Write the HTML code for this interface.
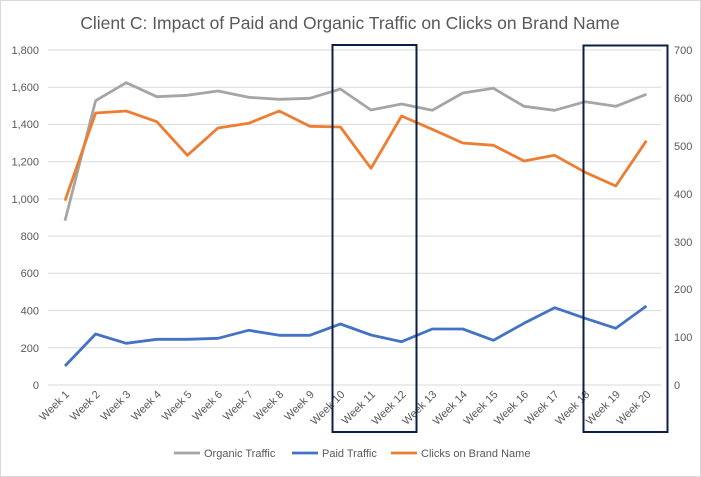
<!DOCTYPE html>
<html><head><meta charset="utf-8"><style>
html,body{margin:0;padding:0;background:#fff}
svg{display:block;font-family:"Liberation Sans",sans-serif}
</style></head><body>
<svg width="701" height="477" viewBox="0 0 701 477">
<rect x="0.5" y="0.5" width="700" height="476" fill="#fff" stroke="#d9d9d9"/>
<text x="350" y="29" text-anchor="middle" font-size="17.5" fill="#595959">Client C: Impact of Paid and Organic Traffic on Clicks on Brand Name</text>
<g stroke="#d9d9d9" stroke-width="1">
<line x1="48" x2="661" y1="50" y2="50"/><line x1="48" x2="661" y1="87.2" y2="87.2"/>
<line x1="48" x2="661" y1="124.4" y2="124.4"/><line x1="48" x2="661" y1="161.7" y2="161.7"/>
<line x1="48" x2="661" y1="198.9" y2="198.9"/><line x1="48" x2="661" y1="236.1" y2="236.1"/>
<line x1="48" x2="661" y1="273.3" y2="273.3"/><line x1="48" x2="661" y1="310.6" y2="310.6"/>
<line x1="48" x2="661" y1="347.8" y2="347.8"/><line x1="48" x2="661" y1="385" y2="385"/>
</g>
<g font-size="11" fill="#595959" text-anchor="end">
<text x="39" y="54">1,800</text><text x="39" y="91">1,600</text><text x="39" y="128">1,400</text>
<text x="39" y="165.5">1,200</text><text x="39" y="203">1,000</text><text x="39" y="240">800</text>
<text x="39" y="277">600</text><text x="39" y="314.5">400</text><text x="39" y="352">200</text><text x="39" y="389">0</text>
</g>
<g font-size="11" fill="#595959" text-anchor="start">
<text x="674" y="54">700</text><text x="674" y="102">600</text><text x="674" y="150">500</text>
<text x="674" y="198">400</text><text x="674" y="246">300</text><text x="674" y="293">200</text>
<text x="674" y="341">100</text><text x="674" y="389">0</text>
</g>
<g font-size="11" fill="#595959" text-anchor="end">
<text transform="translate(70,395) rotate(-45)">Week 1</text>
<text transform="translate(100.6,395) rotate(-45)">Week 2</text>
<text transform="translate(131.2,395) rotate(-45)">Week 3</text>
<text transform="translate(161.8,395) rotate(-45)">Week 4</text>
<text transform="translate(192.4,395) rotate(-45)">Week 5</text>
<text transform="translate(223,395) rotate(-45)">Week 6</text>
<text transform="translate(253.6,395) rotate(-45)">Week 7</text>
<text transform="translate(284.2,395) rotate(-45)">Week 8</text>
<text transform="translate(314.8,395) rotate(-45)">Week 9</text>
<text transform="translate(345.4,395) rotate(-45)">Week 10</text>
<text transform="translate(376,395) rotate(-45)">Week 11</text>
<text transform="translate(406.6,395) rotate(-45)">Week 12</text>
<text transform="translate(437.2,395) rotate(-45)">Week 13</text>
<text transform="translate(467.8,395) rotate(-45)">Week 14</text>
<text transform="translate(498.4,395) rotate(-45)">Week 15</text>
<text transform="translate(529,395) rotate(-45)">Week 16</text>
<text transform="translate(559.6,395) rotate(-45)">Week 17</text>
<text transform="translate(590.2,395) rotate(-45)">Week 18</text>
<text transform="translate(620.8,395) rotate(-45)">Week 19</text>
<text transform="translate(651.4,395) rotate(-45)">Week 20</text>
</g>
<g fill="none" stroke-width="2.8" stroke-linejoin="round">
<polyline stroke="#a5a5a5" points="65,220.7 95.6,100.7 126.2,82.7 156.8,96.7 187.4,95.3 218,91 248.6,97.3 279.2,99.3 309.8,98.3 340.4,89 371,110 401.6,104 432.2,110.3 462.8,93 493.4,88.3 524,106.3 554.6,110.3 585.2,101.7 615.8,106.3 646.4,94.3"/>
<polyline stroke="#ed7d31" points="65,200.7 95.6,113 126.2,111 156.8,121.7 187.4,155.3 218,128 248.6,123.3 279.2,111 309.8,126.3 340.4,127 371,168.3 401.6,116 432.2,129.3 462.8,143 493.4,145.3 524,161 554.6,155.3 585.2,172.3 615.8,186 646.4,140.7"/>
<polyline stroke="#4472c4" points="65,366 95.6,334 126.2,343.3 156.8,339.3 187.4,339.3 218,338.3 248.6,330.3 279.2,335.3 309.8,335.3 340.4,324 371,335 401.6,341.7 432.2,329 462.8,329 493.4,340.3 524,323.3 554.6,307.7 585.2,318.3 615.8,328.3 646.4,306"/>
</g>
<rect x="332.5" y="45" width="84" height="387" fill="none" stroke="#0c1e45" stroke-width="2"/>
<rect x="583.5" y="45.5" width="84" height="386.5" fill="none" stroke="#0c1e45" stroke-width="2"/>
<g font-size="11" fill="#595959">
<line x1="174" x2="200" y1="453" y2="453" stroke="#a5a5a5" stroke-width="2.8"/>
<text x="204" y="457">Organic Traffic</text>
<line x1="292" x2="318" y1="453" y2="453" stroke="#4472c4" stroke-width="2.8"/>
<text x="322" y="457">Paid Traffic</text>
<line x1="391" x2="417" y1="453" y2="453" stroke="#ed7d31" stroke-width="2.8"/>
<text x="421" y="457">Clicks on Brand Name</text>
</g>
</svg>
</body></html>
